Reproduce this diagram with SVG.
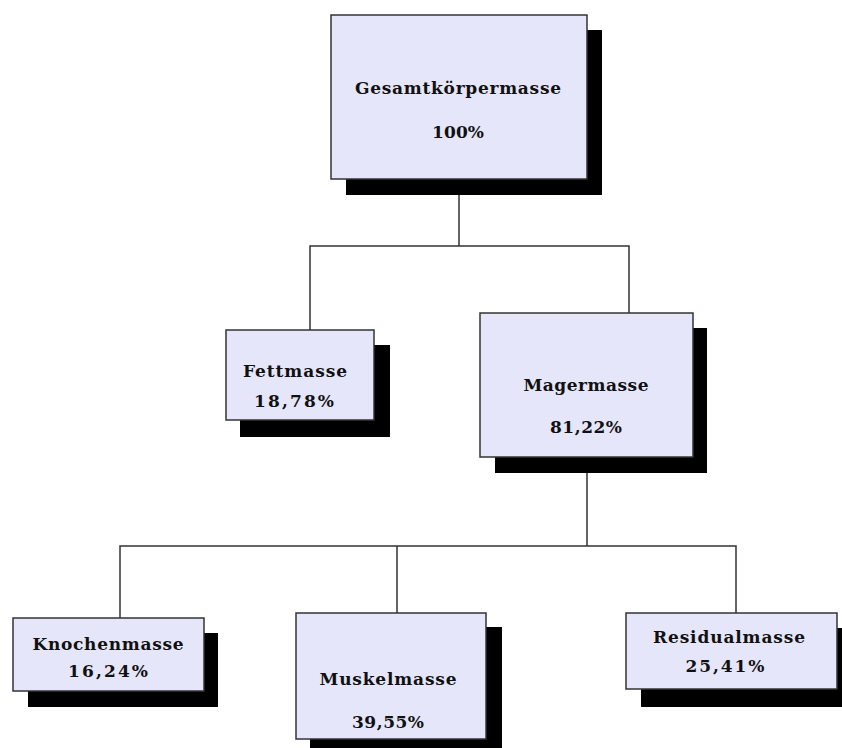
<svg xmlns="http://www.w3.org/2000/svg" width="842" height="748" viewBox="0 0 842 748">
  <style>
    .shadow { fill: #000; }
    .box { fill: #E6E6FA; stroke: #333; stroke-width: 1.5; }
    .conn { fill: none; stroke: #333; stroke-width: 1.5; }
    text { font-family: "DejaVu Serif", "Liberation Serif", serif; font-weight: bold; font-size: 17px; fill: #111; text-anchor: middle; }
  </style>
  <rect width="842" height="748" fill="#fff"/>
  <g id="connectors">
    <path class="conn" d="M459 195 V246 M310 330 V246 H629 V313"/>
    <path class="conn" d="M587 473 V546 M120 618 V546 H736 V613 M397 546 V613"/>
  </g>
  <g id="gesamt">
    <rect class="shadow" x="346" y="30" width="256" height="165"/>
    <rect class="box" x="331" y="15" width="256" height="164"/>
    <text x="458" y="94" textLength="206" lengthAdjust="spacing">Gesamtkörpermasse</text>
    <text x="458" y="138" textLength="52" lengthAdjust="spacing">100%</text>
  </g>
  <g id="fett">
    <rect class="shadow" x="240" y="345" width="150" height="92"/>
    <rect class="box" x="226" y="330" width="148" height="90"/>
    <text x="295" y="377" textLength="104" lengthAdjust="spacing">Fettmasse</text>
    <text x="294" y="407" textLength="80" lengthAdjust="spacing">18,78%</text>
  </g>
  <g id="mager">
    <rect class="shadow" x="495" y="328" width="212" height="145"/>
    <rect class="box" x="480" y="313" width="213" height="144"/>
    <text x="586" y="391" textLength="125" lengthAdjust="spacing">Magermasse</text>
    <text x="586" y="433" textLength="72" lengthAdjust="spacing">81,22%</text>
  </g>
  <g id="knochen">
    <rect class="shadow" x="28" y="633" width="190" height="74"/>
    <rect class="box" x="13" y="618" width="191" height="73"/>
    <text x="108" y="650" textLength="151" lengthAdjust="spacing">Knochenmasse</text>
    <text x="108" y="677" textLength="80" lengthAdjust="spacing">16,24%</text>
  </g>
  <g id="muskel">
    <rect class="shadow" x="310" y="627" width="192" height="130"/>
    <rect class="box" x="296" y="613" width="190" height="126"/>
    <text x="388" y="685" textLength="137" lengthAdjust="spacing">Muskelmasse</text>
    <text x="388" y="728" textLength="72" lengthAdjust="spacing">39,55%</text>
  </g>
  <g id="residual">
    <rect class="shadow" x="641" y="628" width="211" height="79"/>
    <rect class="box" x="626" y="613" width="211" height="76"/>
    <text x="729" y="643" textLength="152" lengthAdjust="spacing">Residualmasse</text>
    <text x="725" y="672" textLength="79" lengthAdjust="spacing">25,41%</text>
  </g>
</svg>
